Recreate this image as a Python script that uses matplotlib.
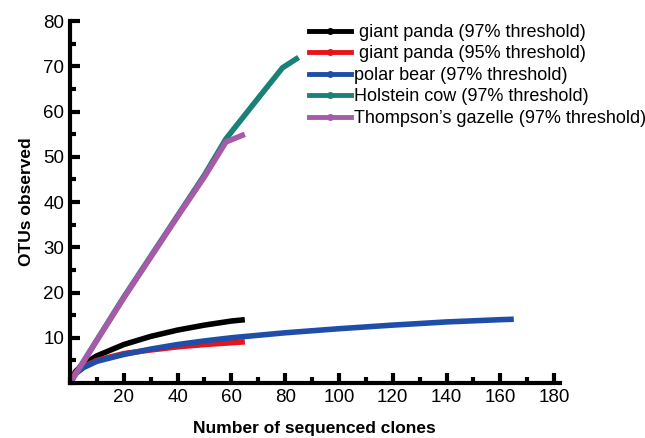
"""Rarefaction curves of OTUs observed against sequenced clones."""

import matplotlib
matplotlib.use('Agg')
import matplotlib.pyplot as plt
from matplotlib.lines import Line2D
from matplotlib.ticker import MultipleLocator

# Data.
panda97_x = [0, 2, 5, 10, 20, 30, 40, 50, 60, 65]
panda97_y = [0, 2.5, 4.2, 6.0, 8.5, 10.3, 11.7, 12.8, 13.7, 14.0]

panda95_x = [0, 2, 5, 10, 20, 30, 40, 50, 60, 65]
panda95_y = [0, 2.3, 3.6, 5.0, 6.5, 7.3, 8.0, 8.5, 8.9, 9.1]

bear_x = [0, 2, 5, 10, 20, 30, 40, 50, 60, 80, 100, 120, 140, 160, 165]
bear_y = [0, 2.0, 3.4, 4.8, 6.3, 7.5, 8.5, 9.3, 10.0, 11.1, 12.0, 12.8,
          13.5, 14.0, 14.1]

cow_x = [0, 10, 20, 30, 40, 50, 58, 70, 79, 85]
cow_y = [0, 9.5, 19, 28, 37, 46, 54, 63, 69.7, 72]

gazelle_x = [0, 10, 20, 30, 40, 50, 58, 65]
gazelle_y = [0, 9.4, 18.8, 27.8, 36.8, 45.6, 53.3, 55]

series = [
    (panda97_x, panda97_y, '#000000', ' giant panda (97% threshold)'),
    (panda95_x, panda95_y, '#e8141c', ' giant panda (95% threshold)'),
    (bear_x, bear_y, '#1f4ea8', 'polar bear (97% threshold)'),
    (cow_x, cow_y, '#1b8178', 'Holstein cow (97% threshold)'),
    (gazelle_x, gazelle_y, '#a65aa8', 'Thompson\u2019s gazelle (97% threshold)'),
]

plt.rcParams['font.family'] = ['Liberation Sans', 'DejaVu Sans']

fig = plt.figure(figsize=(6.45, 4.38), dpi=100)
ax = fig.add_axes([0.1085, 0.1256, 0.759, 0.826])

handles = []
for xs, ys, color, label in series:
    ax.plot(xs, ys, color=color, linewidth=4, solid_capstyle='butt')
    handles.append(Line2D([], [], color=color, linewidth=3.5,
                          marker='o', markersize=4, label=label))

ax.set_xlim(0, 182)
ax.set_ylim(0, 80)
ax.xaxis.set_minor_locator(MultipleLocator(10))
ax.yaxis.set_minor_locator(MultipleLocator(5))
ax.set_xticks(range(20, 181, 20))
ax.set_yticks(range(10, 81, 10))

for side in ('top', 'right'):
    ax.spines[side].set_visible(False)
for side in ('left', 'bottom'):
    ax.spines[side].set_linewidth(3)

ax.tick_params(which='major', direction='in', length=7, width=3,
               labelsize=13.5, pad=4)
ax.tick_params(which='minor', direction='in', length=4, width=3)

ax.set_xlabel('Number of sequenced clones', fontsize=12.5,
              fontweight='bold', labelpad=11)
ax.set_ylabel('OTUs observed', fontsize=12.5, fontweight='bold',
              labelpad=7)

fig.legend(handles=handles, loc='upper left',
           bbox_to_anchor=(0.468, 0.962), frameon=False, fontsize=13,
           handlelength=2.3, handletextpad=0.2, labelspacing=0.25,
           borderaxespad=0)

fig.savefig('out.png', dpi=100)
